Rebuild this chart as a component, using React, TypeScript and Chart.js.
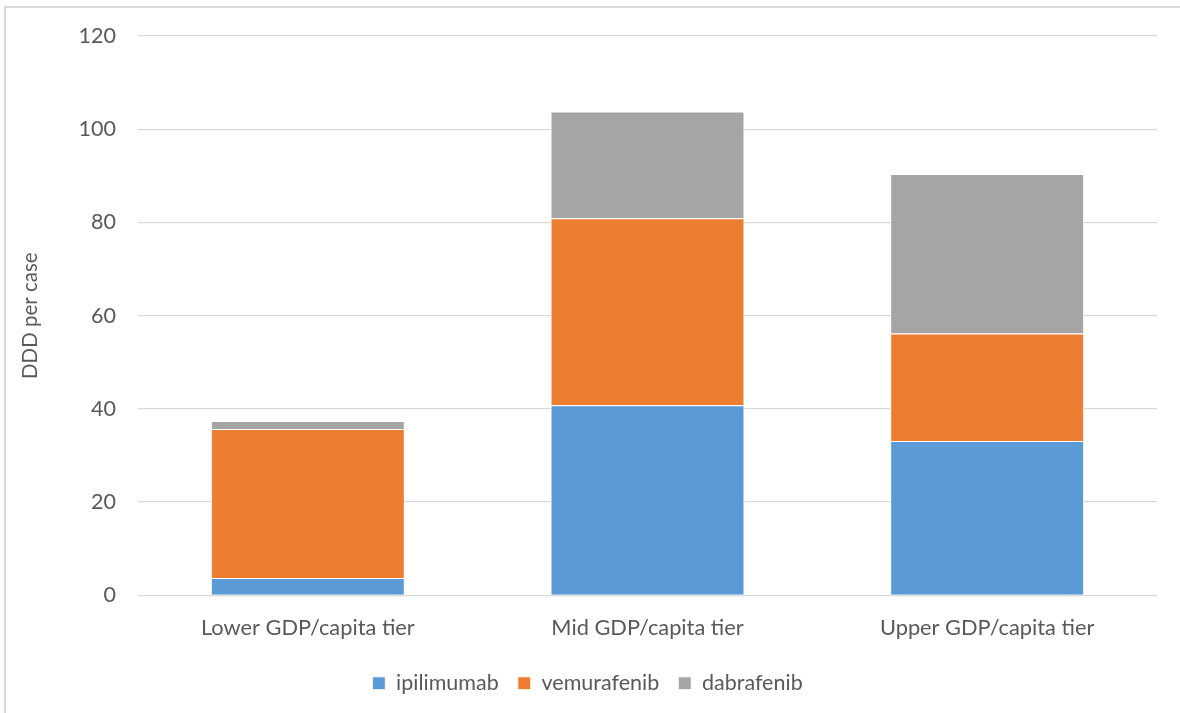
import React, { useEffect, useRef } from "react";
import { Chart, registerables } from "chart.js";

Chart.register(...registerables);

const categories = ["Lower GDP/capita tier", "Mid GDP/capita tier", "Upper GDP/capita tier"];
const ipilimumab = [3.7, 40.8, 33.1];
const vemurafenib = [32.0, 40.1, 23.1];
const dabrafenib = [1.7, 22.9, 34.2];
const seriesNames = ["ipilimumab", "vemurafenib", "dabrafenib"];
const seriesColors = ["#5B9BD5", "#ED7D31", "#A5A5A5"];
const yTitle = "DDD per case";
const FONT = "Lato, 'Open Sans', sans-serif";
const TEXT = "#595959";

export default function App() {
  const ref = useRef<HTMLCanvasElement | null>(null);
  useEffect(() => {
    if (!ref.current) return;
    const values = [ipilimumab, vemurafenib, dabrafenib];
    const chart = new Chart(ref.current, {
      type: "bar",
      data: {
        labels: categories,
        datasets: values.map((v, i) => ({
          label: seriesNames[i],
          data: v,
          backgroundColor: seriesColors[i],
          borderColor: "#ffffff",
          borderWidth: 1,
          categoryPercentage: 1,
          barPercentage: 0.571,
        })),
      },
      options: {
        animation: false,
        responsive: false,
        maintainAspectRatio: false,
        layout: { padding: { left: 18, right: 23, top: 36, bottom: 9 } },
        plugins: {
          legend: {
            position: "bottom",
            labels: {
              boxWidth: 13,
              boxHeight: 13,
              padding: 19,
              color: TEXT,
              font: { family: FONT, size: 21.5 },
            },
          },
          tooltip: { enabled: false },
        },
        scales: {
          x: {
            stacked: true,
            grid: { display: false },
            border: { display: false },
            ticks: { color: TEXT, font: { family: FONT, size: 21.8 }, padding: 12 },
          },
          y: {
            stacked: true,
            min: 0,
            max: 120,
            ticks: { stepSize: 20, color: TEXT, font: { family: FONT, size: 21.5 }, padding: 22 },
            grid: { color: "#d9d9d9", lineWidth: 1.3, drawTicks: false },
            border: { display: false },
            title: {
              display: true,
              text: yTitle,
              color: TEXT,
              font: { family: FONT, size: 20.5 },
              padding: 0,
            },
            afterFit: (s: any) => {
              s.width = 120;
            },
          },
        },
      },
    });
    return () => chart.destroy();
  }, []);
  return (
    <div style={{ position: "fixed", left: 0, top: 0, width: 1180, height: 713, background: "#fff" }}>
      <canvas ref={ref} width={1180} height={713} style={{ position: "absolute", left: 0, top: 0 }} />
      <div
        style={{
          position: "absolute",
          left: 4,
          top: 6,
          width: 1300,
          height: 900,
          border: "2px solid #d9d9d9",
          boxSizing: "border-box",
          pointerEvents: "none",
        }}
      />
    </div>
  );
}
